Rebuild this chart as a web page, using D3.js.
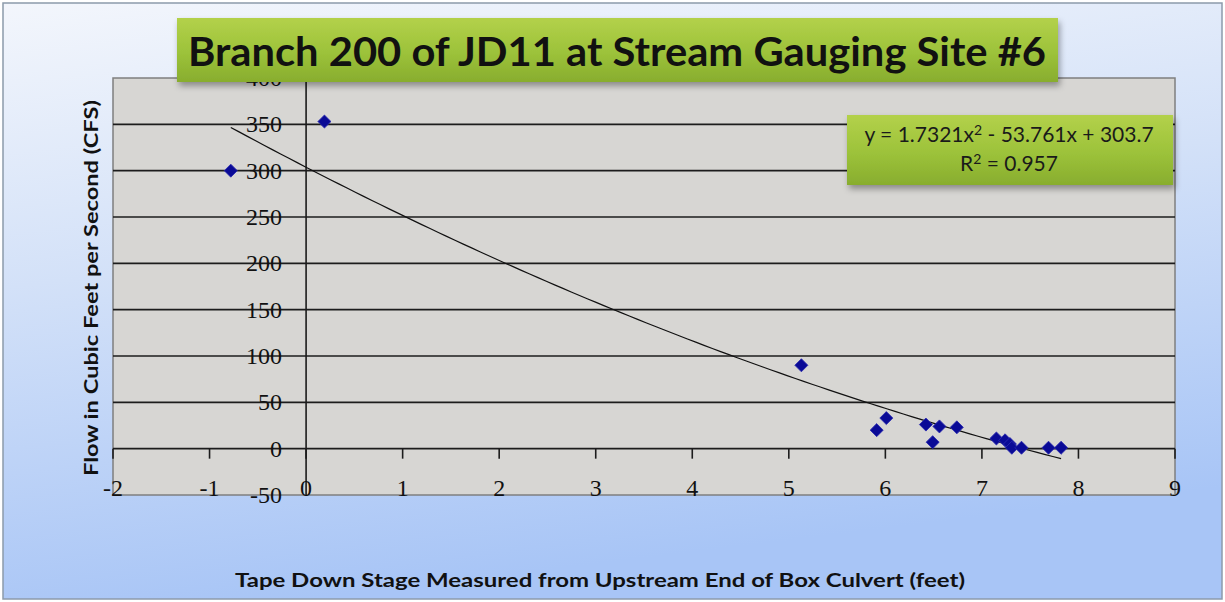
<!DOCTYPE html>
<html>
<head>
<meta charset="utf-8">
<script src="https://cdn.jsdelivr.net/npm/d3@7"></script>
<style>
  body { margin: 0; background: #fff; }
  svg { display: block; }
</style>
</head>
<body>
<script>
// data
var stage = [-0.78, 0.19, 5.13, 5.91, 6.01, 6.42, 6.49, 6.56, 6.74, 7.15, 7.24, 7.29, 7.31, 7.41, 7.69, 7.82];
var flow  = [300, 353, 90, 20, 33, 26, 7, 24, 23, 11, 9, 5, 1, 1, 1, 1];
var fitCoef = [1.7321, -53.761, 303.7];   // a x^2 + b x + c
var xTicks = [-2, -1, 0, 1, 2, 3, 4, 5, 6, 7, 8, 9];
var yTicks = [-50, 0, 50, 100, 150, 200, 250, 300, 350, 400];

var svgWidth = 1225, svgHeight = 602;
var plot = { left: 113, right: 1175, top: 78, bottom: 495 };

var svg = d3.select("body").append("svg")
  .attr("width", svgWidth)
  .attr("height", svgHeight);

var defs = svg.append("defs");
var bg = defs.append("linearGradient").attr("id", "bg").attr("x1", 0).attr("y1", 0).attr("x2", 0.25).attr("y2", 1);
bg.append("stop").attr("offset", "0%").attr("stop-color", "#f3f6fc");
bg.append("stop").attr("offset", "45%").attr("stop-color", "#d3e1f8");
bg.append("stop").attr("offset", "100%").attr("stop-color", "#a8c5f6");

var green = defs.append("linearGradient").attr("id", "green").attr("x1", 0).attr("y1", 0).attr("x2", 0).attr("y2", 1);
green.append("stop").attr("offset", "0%").attr("stop-color", "#b3d14a");
green.append("stop").attr("offset", "55%").attr("stop-color", "#9cc23a");
green.append("stop").attr("offset", "100%").attr("stop-color", "#88ad2e");

var shadow = defs.append("filter").attr("id", "shadow").attr("x", "-5%").attr("y", "-20%").attr("width", "110%").attr("height", "150%");
shadow.append("feDropShadow").attr("dx", 2).attr("dy", 4).attr("stdDeviation", 3).attr("flood-color", "#000").attr("flood-opacity", 0.35);

// chart background
svg.append("rect")
  .attr("x", 3).attr("y", 3)
  .attr("width", svgWidth - 6).attr("height", svgHeight - 6)
  .attr("fill", "url(#bg)")
  .attr("stroke", "#8c9aab")
  .attr("stroke-width", 1.5);

// scales
var xScale = d3.scaleLinear().domain([-2, 9]).range([plot.left, plot.right]);
var yScale = d3.scaleLinear().domain([-50, 400]).range([plot.bottom, plot.top]);

// plot area
svg.append("rect")
  .attr("x", plot.left).attr("y", plot.top)
  .attr("width", plot.right - plot.left).attr("height", plot.bottom - plot.top)
  .attr("fill", "#d7d6d3")
  .attr("stroke", "#7f7f7f")
  .attr("stroke-width", 1.5);

// horizontal gridlines
svg.append("g").selectAll("line")
  .data(yTicks.filter(d => d > -50 && d < 400))
  .enter().append("line")
  .attr("x1", plot.left).attr("x2", plot.right)
  .attr("y1", d => yScale(d)).attr("y2", d => yScale(d))
  .attr("stroke", "#1c1c1c")
  .attr("stroke-width", 1.6);

// y axis at x = 0
svg.append("line")
  .attr("x1", xScale(0)).attr("x2", xScale(0))
  .attr("y1", plot.top).attr("y2", plot.bottom)
  .attr("stroke", "#1c1c1c").attr("stroke-width", 1.6);

// x axis ticks hanging from y = 0
svg.append("g").selectAll("line")
  .data(xTicks)
  .enter().append("line")
  .attr("x1", d => xScale(d)).attr("x2", d => xScale(d))
  .attr("y1", yScale(0)).attr("y2", yScale(0) + 10)
  .attr("stroke", "#1c1c1c").attr("stroke-width", 1.6);

// tick labels
svg.append("g").selectAll("text")
  .data(yTicks)
  .enter().append("text")
  .attr("x", xScale(0) - 24)
  .attr("y", d => yScale(d) + 8)
  .attr("text-anchor", "end")
  .attr("font-family", "Liberation Serif, serif")
  .attr("font-size", 24)
  .attr("fill", "#111")
  .text(d => d);

svg.append("g").selectAll("text")
  .data(xTicks)
  .enter().append("text")
  .attr("x", d => xScale(d))
  .attr("y", plot.bottom + 1)
  .attr("text-anchor", "middle")
  .attr("font-family", "Liberation Serif, serif")
  .attr("font-size", 24)
  .attr("fill", "#111")
  .text(d => d);

// trendline from the fitted equation
var fitX = d3.range(0, 101).map(i => d3.min(stage) + (d3.max(stage) - d3.min(stage)) * i / 100);
var fitLine = d3.line()
  .x(d => xScale(d))
  .y(d => yScale(fitCoef[0] * d * d + fitCoef[1] * d + fitCoef[2]));
svg.append("path")
  .datum(fitX)
  .attr("d", fitLine)
  .attr("fill", "none")
  .attr("stroke", "#111")
  .attr("stroke-width", 1.2);

// points
var pts = stage.map((s, i) => ({ x: s, y: flow[i] }));
svg.append("g").selectAll("path")
  .data(pts)
  .enter().append("path")
  .attr("d", d3.symbol().type(d3.symbolSquare).size(85))
  .attr("transform", d => `translate(${xScale(d.x)},${yScale(d.y)}) rotate(45)`)
  .attr("fill", "#0a0a96")
  .attr("stroke", "#2a2ab0")
  .attr("stroke-width", 0.8);

// title box
svg.append("rect")
  .attr("x", 177).attr("y", 18)
  .attr("width", 881).attr("height", 64)
  .attr("fill", "url(#green)")
  .attr("filter", "url(#shadow)");
svg.append("text")
  .attr("x", 617).attr("y", 66)
  .attr("text-anchor", "middle")
  .attr("font-family", "Lato, sans-serif")
  .attr("font-weight", "bold")
  .attr("font-size", 40)
  .attr("textLength", 858)
  .attr("lengthAdjust", "spacingAndGlyphs")
  .attr("fill", "#111")
  .text("Branch 200 of JD11 at Stream Gauging Site #6");

// equation box
svg.append("rect")
  .attr("x", 847).attr("y", 115)
  .attr("width", 326).attr("height", 70)
  .attr("fill", "url(#green)")
  .attr("filter", "url(#shadow)");
var eq = svg.append("text")
  .attr("x", 1009).attr("y", 142)
  .attr("text-anchor", "middle")
  .attr("font-family", "Lato, sans-serif")
  .attr("font-size", 21)
  .attr("fill", "#1a1a1a");
eq.append("tspan").text("y = " + fitCoef[0] + "x");
eq.append("tspan").attr("dy", -7).attr("font-size", 14).text("2");
eq.append("tspan").attr("dy", 7).text(" - " + Math.abs(fitCoef[1]) + "x + " + fitCoef[2]);
var r2 = svg.append("text")
  .attr("x", 1009).attr("y", 171)
  .attr("text-anchor", "middle")
  .attr("font-family", "Lato, sans-serif")
  .attr("font-size", 21)
  .attr("fill", "#1a1a1a");
r2.append("tspan").text("R");
r2.append("tspan").attr("dy", -7).attr("font-size", 14).text("2");
r2.append("tspan").attr("dy", 7).text(" = 0.957");

// axis titles
svg.append("text")
  .attr("transform", "translate(98, 288) rotate(-90)")
  .attr("text-anchor", "middle")
  .attr("font-family", "Lato, sans-serif")
  .attr("font-weight", "bold")
  .attr("font-size", 18)
  .attr("textLength", 376)
  .attr("lengthAdjust", "spacingAndGlyphs")
  .attr("fill", "#111")
  .text("Flow in Cubic Feet per Second (CFS)");

svg.append("text")
  .attr("x", 600).attr("y", 587)
  .attr("text-anchor", "middle")
  .attr("font-family", "Lato, sans-serif")
  .attr("font-weight", "bold")
  .attr("font-size", 18)
  .attr("textLength", 730)
  .attr("lengthAdjust", "spacingAndGlyphs")
  .attr("fill", "#111")
  .text("Tape Down Stage Measured from Upstream End of Box Culvert (feet)");
</script>
</body>
</html>
